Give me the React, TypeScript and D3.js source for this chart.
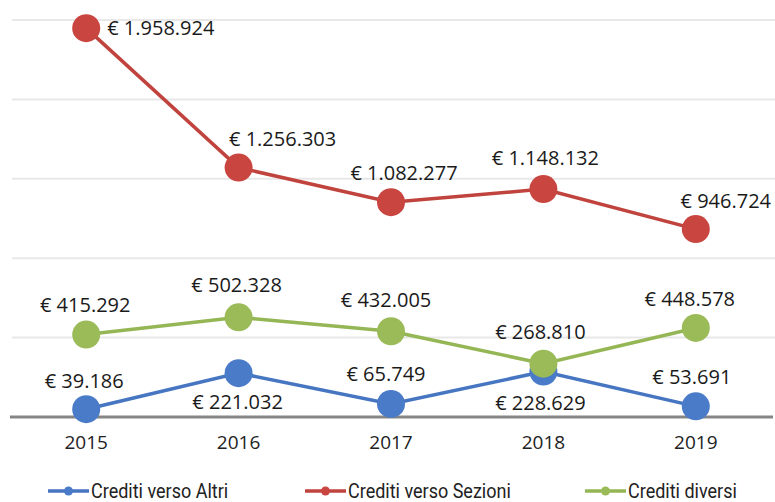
import { useEffect, useRef } from "react";
import { select, scaleBand, scaleLinear, line } from "d3";

// data
const years = ["2015", "2016", "2017", "2018", "2019"];
const altri = [39186, 221032, 65749, 228629, 53691];
const sezioni = [1958924, 1256303, 1082277, 1148132, 946724];
const diversi = [415292, 502328, 432005, 268810, 448578];
const gridTicks = [0, 400000, 800000, 1200000, 1600000, 2000000];
const seriesNames = ["Crediti verso Altri", "Crediti verso Sezioni", "Crediti diversi"];

const width = 775;
const height = 502;
const colors = ["#4a7bc8", "#c9453f", "#9bbb59"];
const lineColors = ["#4675c2", "#c0433d", "#95b654"];

// label placement, per series (dx from point, dy from point)
const labelDx = [
  [-2, -1, -5, -3, -4],
  [0, 44, 13, 2, 30],
  [-1, -2, -5, -3, -6],
];
const labelDy = [
  [-28, 29, -30, 31, -30],
  [0, -29, -29, -31, -28],
  [-30, -32, -31, -32, -29],
];

const fmt = (v: number) => "€ " + v.toLocaleString("de-DE");

export default function App() {
  const ref = useRef<SVGSVGElement>(null);

  useEffect(() => {
    if (!ref.current) return;
    const svg = select(ref.current);
    svg.selectAll("*").remove();

    const x = scaleBand().domain(years).range([10, 772]);
    const y = scaleLinear().domain([0, 2000000]).range([417, 20]);
    const cx = (d: string) => (x(d) as number) + x.bandwidth() / 2;

    // gridlines
    svg
      .append("g")
      .selectAll("line")
      .data(gridTicks.slice(1))
      .enter()
      .append("line")
      .attr("x1", 12)
      .attr("x2", 775)
      .attr("y1", (d) => y(d))
      .attr("y2", (d) => y(d))
      .attr("stroke", "#e8e8e8")
      .attr("stroke-width", 2);

    // baseline
    svg
      .append("line")
      .attr("x1", 10)
      .attr("x2", 773)
      .attr("y1", y(0))
      .attr("y2", y(0))
      .attr("stroke", "#858585")
      .attr("stroke-width", 3);

    // year labels
    svg
      .append("g")
      .selectAll("text")
      .data(years)
      .enter()
      .append("text")
      .attr("x", (d) => cx(d))
      .attr("y", 449)
      .attr("text-anchor", "middle")
      .attr("font-family", "Open Sans")
      .attr("font-size", 19)
      .attr("fill", "#222")
      .text((d) => d);

    const all = [altri, sezioni, diversi];
    const path = line<number>()
      .x((_, i) => cx(years[i]))
      .y((d) => y(d));

    all.forEach((vals, s) => {
      const g = svg.append("g");
      g.append("path")
        .attr("d", path(vals) as string)
        .attr("fill", "none")
        .attr("stroke", lineColors[s])
        .attr("stroke-width", 3.5);
      g.selectAll("circle")
        .data(vals)
        .enter()
        .append("circle")
        .attr("cx", (_, i) => cx(years[i]))
        .attr("cy", (d) => y(d))
        .attr("r", 14)
        .attr("fill", colors[s]);
    });

    // data labels
    all.forEach((vals, s) => {
      svg
        .append("g")
        .selectAll("text")
        .data(vals)
        .enter()
        .append("text")
        .attr("x", (_, i) => cx(years[i]) + (s === 1 && i === 0 ? 21 : labelDx[s][i]))
        .attr("y", (d, i) => y(d) + labelDy[s][i])
        .attr("dy", "0.36em")
        .attr("text-anchor", (_, i) => (s === 1 && i === 0 ? "start" : "middle"))
        .attr("font-family", "Open Sans")
        .attr("font-size", 20)
        .attr("fill", "#1a1a1a")
        .text((d) => fmt(d));
    });

    // legend
    const legX = [48, 305, 585];
    const leg = svg
      .append("g")
      .selectAll("g")
      .data(seriesNames)
      .enter()
      .append("g")
      .attr("transform", (_, i) => `translate(${legX[i]},491)`);
    leg
      .append("line")
      .attr("x1", 0)
      .attr("x2", 41)
      .attr("stroke", (_, i) => lineColors[i])
      .attr("stroke-width", 3.5);
    leg
      .append("circle")
      .attr("cx", 20.5)
      .attr("r", 4.5)
      .attr("fill", (_, i) => colors[i]);
    leg
      .append("text")
      .attr("transform", "translate(43,0) scale(0.9,1)")
      .attr("dy", "0.36em")
      .attr("font-family", "Roboto")
      .attr("font-size", 20)
      .attr("fill", "#222")
      .text((d) => d);
  }, []);

  return (
    <svg
      ref={ref}
      width={width}
      height={height}
      style={{ position: "absolute", left: 0, top: 0, background: "#fff" }}
    ></svg>
  );
}
